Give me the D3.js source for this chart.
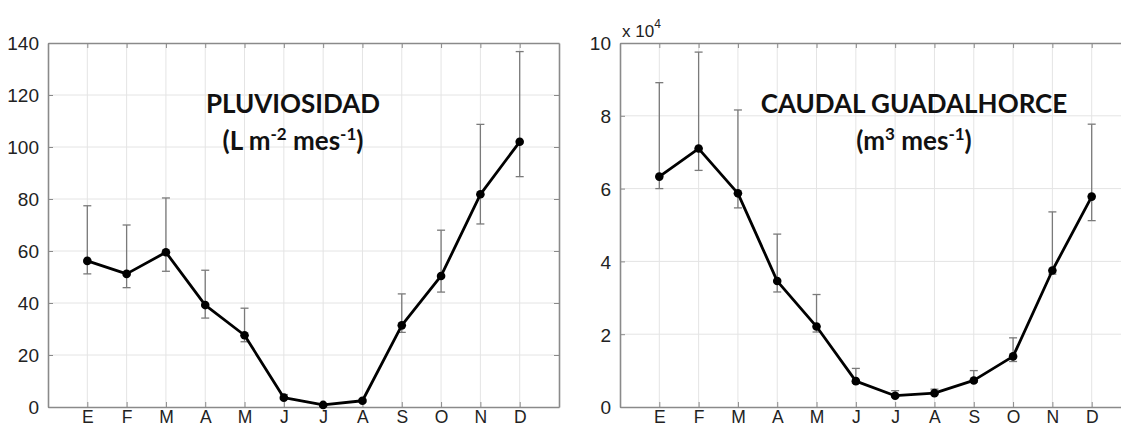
<!DOCTYPE html>
<html>
<head>
<meta charset="utf-8">
<script src="https://cdn.jsdelivr.net/npm/d3@7"></script>
<style>
  html, body { margin: 0; padding: 0; background: #fff; }
  svg { display: block; }
</style>
</head>
<body>
<svg id="chart" width="1121" height="428"></svg>
<script>
// ---- Data ----
const months = ["E","F","M","A","M","J","J","A","S","O","N","D"];

// Pluviosidad (L m-2 mes-1)
const rainMean  = [56.2, 51.2, 59.5, 39.2, 27.6, 3.6, 0.8, 2.4, 31.4, 50.4, 81.8, 102];
const rainUpper = [77.4, 70.0, 80.4, 52.6, 38.0, 4.8, 1.2, 3.0, 43.5, 68.0, 108.7, 136.7];
const rainLower = [51.2, 45.9, 52.2, 34.2, 25.1, 3.0, 0.5, 2.0, 28.7, 44.2, 70.4, 88.6];
const rainTicks = [0, 20, 40, 60, 80, 100, 120, 140];

// Caudal Guadalhorce (m3 mes-1), in units of 10^4
const flowMean  = [6.33, 7.10, 5.87, 3.46, 2.21, 0.71, 0.31, 0.38, 0.73, 1.39, 3.75, 5.78];
const flowUpper = [8.91, 9.75, 8.16, 4.75, 3.09, 1.06, 0.45, 0.49, 1.00, 1.90, 5.36, 7.77];
const flowLower = [6.00, 6.50, 5.47, 3.16, 2.06, 0.65, 0.28, 0.34, 0.68, 1.25, 3.65, 5.12];
const flowTicks = [0, 2, 4, 6, 8, 10];

const svg = d3.select("#chart");

function panel(opts) {
  const {left, width, top, bottom, yMax, yTicks, mean, upper, lower, title1, title2, titleX} = opts;
  const g = svg.append("g");
  const x = d3.scaleLinear().domain([0, 13]).range([left, left + width]);
  const y = d3.scaleLinear().domain([0, yMax]).range([bottom, top]);
  const idx = d3.range(1, 13);

  // grid
  g.append("g").selectAll("line").data(idx).join("line")
    .attr("x1", d => x(d)).attr("x2", d => x(d))
    .attr("y1", top).attr("y2", bottom)
    .attr("stroke", "#e4e4e4").attr("stroke-width", 1);
  g.append("g").selectAll("line").data(yTicks.slice(1, -1)).join("line")
    .attr("x1", left).attr("x2", left + width)
    .attr("y1", d => y(d)).attr("y2", d => y(d))
    .attr("stroke", "#e4e4e4").attr("stroke-width", 1);

  // box axes
  const axisColor = "#8a8a8a";
  const xb = d3.axisBottom(x).tickValues(idx).tickFormat(d => months[d - 1])
    .tickSizeInner(-5).tickSizeOuter(0).tickPadding(4);
  const gx = g.append("g").attr("transform", `translate(0,${bottom})`).call(xb);
  const xt = d3.axisTop(x).tickValues(idx).tickFormat("").tickSizeInner(-5).tickSizeOuter(0);
  const gxt = g.append("g").attr("transform", `translate(0,${top})`).call(xt);
  const yl = d3.axisLeft(y).tickValues(yTicks).tickSizeInner(-5).tickSizeOuter(0).tickPadding(9);
  const gy = g.append("g").attr("transform", `translate(${left},0)`).call(yl);
  const yr = d3.axisRight(y).tickValues(yTicks).tickFormat("").tickSizeInner(-5).tickSizeOuter(0);
  const gyr = g.append("g").attr("transform", `translate(${left + width},0)`).call(yr);
  [gx, gxt, gy, gyr].forEach(a => {
    a.select(".domain").attr("stroke", axisColor).attr("stroke-width", 1.6);
    a.selectAll(".tick line").attr("stroke", axisColor).attr("stroke-width", 1);
    a.selectAll("text").attr("fill", "#222").attr("font-family", "Liberation Sans, Arial, sans-serif");
  });
  gx.selectAll("text").attr("font-size", 17.5);
  gy.selectAll("text").attr("font-size", 19).attr("dy", "0.36em");

  // error bars
  const eb = g.append("g").attr("stroke", "#7a7a7a").attr("stroke-width", 1.3);
  idx.forEach((d, i) => {
    const cx = x(d);
    eb.append("line").attr("x1", cx).attr("x2", cx).attr("y1", y(upper[i])).attr("y2", y(lower[i]));
    eb.append("line").attr("x1", cx - 4).attr("x2", cx + 4).attr("y1", y(upper[i])).attr("y2", y(upper[i]));
    eb.append("line").attr("x1", cx - 4).attr("x2", cx + 4).attr("y1", y(lower[i])).attr("y2", y(lower[i]));
  });

  // line
  const line = d3.line().x((d, i) => x(i + 1)).y(d => y(d));
  g.append("path").datum(mean).attr("d", line)
    .attr("fill", "none").attr("stroke", "#000").attr("stroke-width", 2.8)
    .attr("stroke-linejoin", "round");
  g.append("g").selectAll("circle").data(mean).join("circle")
    .attr("cx", (d, i) => x(i + 1)).attr("cy", d => y(d)).attr("r", 4.3).attr("fill", "#000");

  // titles
  const tf = "Lato, 'Open Sans', sans-serif";
  g.append("text").attr("x", titleX).attr("y", 113).attr("text-anchor", "middle")
    .attr("font-family", tf).attr("font-weight", "bold").attr("font-size", 26).attr("fill", "#111")
    .text(title1);
  const t2 = g.append("text").attr("x", titleX).attr("y", 150).attr("text-anchor", "middle")
    .attr("font-family", tf).attr("font-weight", "bold").attr("font-size", 26).attr("fill", "#111");
  title2.forEach(p => {
    const ts = t2.append("tspan").text(p.t);
    if (p.sup) ts.attr("font-size", 17).attr("dy", -10);
    if (p.down) ts.attr("dy", 10);
  });
  return {g, x, y};
}

panel({
  left: 48, width: 511, top: 43, bottom: 407, yMax: 140, yTicks: rainTicks,
  mean: rainMean, upper: rainUpper, lower: rainLower,
  title1: "PLUVIOSIDAD",
  title2: [{t: "(L m"}, {t: "-2", sup: true}, {t: " mes", down: true}, {t: "-1", sup: true}, {t: ")", down: true}],
  titleX: 293
});

panel({
  left: 620, width: 511, top: 43, bottom: 407, yMax: 10, yTicks: flowTicks,
  mean: flowMean, upper: flowUpper, lower: flowLower,
  title1: "CAUDAL GUADALHORCE",
  title2: [{t: "(m"}, {t: "3", sup: true}, {t: " mes", down: true}, {t: "-1", sup: true}, {t: ")", down: true}],
  titleX: 914
});

// exponent label
const ex = svg.append("text").attr("x", 622).attr("y", 37)
  .attr("font-family", "Liberation Sans, Arial, sans-serif").attr("font-size", 17).attr("fill", "#222");
ex.append("tspan").text("x 10");
ex.append("tspan").text("4").attr("font-size", 12).attr("dy", -9);
</script>
</body>
</html>
